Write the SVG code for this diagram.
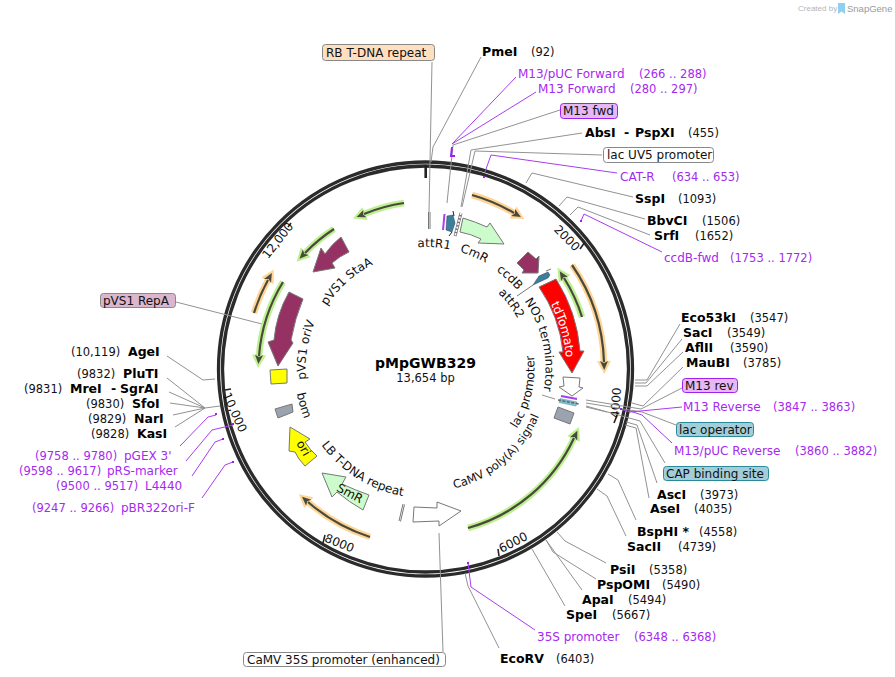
<svg xmlns="http://www.w3.org/2000/svg" width="895" height="677" viewBox="0 0 895 677">
<style>
text{font-family:"DejaVu Sans","Verdana",sans-serif;font-size:12px;fill:#111}
.b{font-weight:bold;font-size:12.5px;fill:#000}
.p{fill:#a52af0}
.n{font-size:11.5px}
.np{font-size:11.5px;fill:#a52af0}
.c{fill:none;stroke:#929292;stroke-width:1}
.m{fill:none;stroke:#a83cf0;stroke-width:1}
.dot{fill:none;stroke:#a020f0;stroke-width:2}
.ring{fill:none;stroke:#2b2b2b;stroke-width:3.300}
.tick{stroke:#222;stroke-width:1.600}
.f{stroke:#777;stroke-width:1}
.og{fill:none;stroke:#ffd596;stroke-width:6.500}
.gg{fill:none;stroke:#bdf08f;stroke-width:6.500}
.dk{fill:none;stroke:#4a4a3c;stroke-width:2.200}
.g2{stroke:#777;stroke-width:1;fill:none}
</style>
<defs>
<marker id="ho" markerUnits="userSpaceOnUse" markerWidth="20" markerHeight="20" refX="4" refY="10" orient="auto"><path d="M3 3L16 10L3 17Z" fill="#ffd596"/></marker>
<marker id="hg" markerUnits="userSpaceOnUse" markerWidth="20" markerHeight="20" refX="4" refY="10" orient="auto"><path d="M3 3L16 10L3 17Z" fill="#bdf08f"/></marker>
<marker id="hd" markerUnits="userSpaceOnUse" markerWidth="14" markerHeight="14" refX="2" refY="7" orient="auto"><path d="M1 3L10 7L1 11L3 7Z" fill="#4a4a3c"/></marker>
<path id="a122" d="M319.85,308A122,122 0 0 1 531.15,308"/>
<path id="a121" d="M320.71,308.5A121,121 0 0 1 530.29,308.5"/>
<path id="a105" d="M334.57,316.5A105,105 0 0 1 516.43,316.5"/>
<path id="a117" d="M324.18,310.5A117,117 0 0 1 526.82,310.5"/>
<path id="a120" d="M321.58,309A120,120 0 0 1 529.42,309"/>
<path id="a141" d="M303.39,298.5A141,141 0 0 1 547.61,298.5"/>
<path id="b109" d="M331.1,423.5A109,109 0 0 0 519.9,423.5"/>
<path id="b123" d="M319,430.5A123,123 0 0 0 532,430.5"/>
<path id="b129" d="M313.78,433.5A129,129 0 0 0 537.22,433.5"/>
<path id="b131" d="M312.05,434.5A131,131 0 0 0 538.95,434.5"/>
</defs>
<g id="watermark">
<text x="798" y="11" style="font-size:8px;fill:#b5b5b5;font-family:'Liberation Sans',sans-serif">Created by</text>
<path d="M838 3h7v11l-3.500-2.500-3.500 2.500z" fill="#8fd0f2"/>
<text x="847" y="11.500" style="font-size:9.500px;fill:#9a9a9a;font-family:'Liberation Sans',sans-serif">SnapGene</text>
</g>
<g id="backbone">
<circle class="ring" cx="425.500" cy="369" r="207"/>
<circle class="ring" cx="425.500" cy="369" r="203"/>
<line x1="425.700" y1="165" x2="425.700" y2="178" stroke="#222" stroke-width="2.600"/>
<line class="tick" x1="585" y1="242" x2="580" y2="249"/>
<line class="tick" x1="618" y1="413" x2="614" y2="423"/>
<line class="tick" x1="498" y1="549" x2="499" y2="556"/>
<line class="tick" x1="325" y1="535" x2="323" y2="543"/>
<line class="tick" x1="225" y1="390" x2="231" y2="389"/>
<line class="tick" x1="291" y1="223" x2="288" y2="227"/>
<text transform="translate(564,241) rotate(45)" text-anchor="middle">2000</text>
<text transform="translate(620,403) rotate(-86)" text-anchor="middle">4000</text>
<text transform="translate(515,546) rotate(-27)" text-anchor="middle">6000</text>
<text transform="translate(338,547) rotate(22)" text-anchor="middle">8000</text>
<text transform="translate(231,414) rotate(66)" text-anchor="middle">10,000</text>
<text transform="translate(281,243) rotate(-52)" text-anchor="middle">12,000</text>
</g>
<g id="connectors">
<path class="c" d="M481,57L433,147L431,162M432,62L429,212"/>
<path class="c" d="M560,110L453,145L447,203"/>
<path class="c" d="M582,133L471,150L461,207M602,155L475,151L462,207"/>
<path class="c" d="M633,197L532,173L526,183M645,219L567,197L559,206M650,235L578,207L570,215"/>
<path class="c" d="M680,324L647,380L635,380M682,339L646,383L635,383M683,352L647,386L635,386M683,367L643,406L632,403"/>
<path class="c" d="M682,388L641,409L586,400M676,425L642,412L586,403M665,463L640,421L586,406M657,483L637,425L626,422M649,498L636,428L625,425"/>
<path class="c" d="M607,412L586,407M542,395L555,399"/>
<path class="c" d="M608,474L618,480L636,520M597,489L607,496L626,536M557,532L565,541L606,563M546,540L553,552L596,579M546,540L582,590M532,549L565,606M465,573L468,586L499,648"/>
<path class="c" d="M439,533L443,652"/>
<path class="c" d="M176,302L262,324"/>
<path class="c" d="M167,356L203,380L215,379M167,378L205,408L220,406M169,392L205,408M170,403L205,408M173,415L205,408M175,427L205,408"/>
<path class="m" d="M516,77L452,144M536,92L452,144"/>
<path class="m" d="M617,173L491,155L485,172M662,252L584,214L581,221"/>
<path class="m" d="M682,407L630,412L621,409M672,443L642,415L630,411"/>
<path class="m" d="M535,630L471,587L468,563"/>
<path class="m" d="M180,446L208,417L216,415M186,461L212,430L233,425M192,476L215,442L223,439M202,498L225,465L233,462"/>
<path class="dot" d="M452,147L451,156L455,156M484,176v2M581,220v2M621,408v2M468,562v2M216,413v2M233,423v2M223,438v2M233,461v2"/>
</g>
<g id="arcs">
<path class="og" d="M472,195A180,180 0 0 1 514,213" marker-end="url(#ho)"/><path class="dk" d="M472,195A180,180 0 0 1 514,213" marker-end="url(#hd)"/>
<path class="og" d="M572,265A180,180 0 0 1 604,362" marker-end="url(#ho)"/><path class="dk" d="M572,265A180,180 0 0 1 604,362" marker-end="url(#hd)"/>
<path class="gg" d="M582,317A165,165 0 0 0 564,278" marker-end="url(#hg)"/><path class="dk" d="M582,317A165,165 0 0 0 564,278" marker-end="url(#hd)"/>
<path class="gg" d="M468,528A165,165 0 0 0 574,438" marker-end="url(#hg)"/><path class="dk" d="M468,528A165,165 0 0 0 574,438" marker-end="url(#hd)"/>
<path class="og" d="M370,537A178,178 0 0 1 308,502" marker-end="url(#ho)"/><path class="dk" d="M370,537A178,178 0 0 1 308,502" marker-end="url(#hd)"/>
<path class="og" d="M254,313A180,180 0 0 1 268,280" marker-end="url(#ho)"/><path class="dk" d="M254,313A180,180 0 0 1 268,280" marker-end="url(#hd)"/>
<path class="gg" d="M283,282A167,167 0 0 0 259,356" marker-end="url(#hg)"/><path class="dk" d="M283,282A167,167 0 0 0 259,356" marker-end="url(#hd)"/>
<path class="gg" d="M334,229A167,167 0 0 0 305,253" marker-end="url(#hg)"/><path class="dk" d="M334,229A167,167 0 0 0 305,253" marker-end="url(#hd)"/>
<path class="gg" d="M404,203A167,167 0 0 0 364,214" marker-end="url(#hg)"/><path class="dk" d="M404,203A167,167 0 0 0 364,214" marker-end="url(#hd)"/>
</g>
<g id="attR1">
<path class="g2" d="M428.500,212V229M430,212V229"/>
<path d="M444.500,214L443,230" stroke="#a83cf0" stroke-width="2" fill="none"/>
<path d="M447,216L453,215L455,223L452,232L446,230Z" fill="#3a8098" stroke="#336" stroke-width=".5"/>
<path d="M453,211L454,216M452,232L449,236" stroke="#222" stroke-width="1" fill="none"/>
<text transform="rotate(4 425.500 369)" text-anchor="middle"><textPath href="#a122" startOffset="50%">attR1</textPath></text>
</g>
<g id="lacUV5">
<path d="M461,213L455,236" stroke="#777" stroke-width="3" fill="none"/>
<path d="M461,213L455,236" stroke="#fff" stroke-width="1.600" stroke-dasharray="2 1.500" fill="none"/>
</g>
<g id="CmR">
<path class="f" fill="#ccfbcc" d="M463,218Q476,222 487,227L490,223L504,244L478,243L481,239Q471,234 460,232Z"/>
<text transform="rotate(23 425.500 369)" text-anchor="middle"><textPath href="#a122" startOffset="50%">CmR</textPath></text>
</g>
<g id="ccdB">
<path class="f" fill="#963163" d="M528,252L517,263L524,270L522,273L538,273L539,256L536,259Z"/>
<text transform="rotate(42.600 425.500 369)" text-anchor="middle"><textPath href="#a121" startOffset="50%">ccdB</textPath></text>
</g>
<g id="attR2">
<path fill="#3a8098" stroke="#336" stroke-width=".5" d="M533,285L539,276L548,272L550,275L548,278Z"/>
<path d="M546,271L551,269M533,285L517,296" stroke="#777" stroke-width="1" fill="none"/>
<text transform="rotate(52.600 425.500 369)" text-anchor="middle"><textPath href="#a105" startOffset="50%">attR2</textPath></text>
</g>
<g id="tdTomato">
<path class="f" fill="#ff0000" d="M539,287A140,140 0 0 1 563,352L559,352L572,373L584,351L580,351A157,157 0 0 0 556,279Z"/>
<text transform="rotate(74 425.500 369)" text-anchor="middle" style="fill:#fff"><textPath href="#a141" startOffset="50%" style="fill:#fff">tdTomato</textPath></text>
</g>
<g id="NOS">
<path class="f" fill="#fff" d="M563,377L580,378L579,387L583,388L572,396L559,387L564,386Z"/>
<text transform="rotate(78 425.500 369)" text-anchor="middle"><textPath href="#a120" startOffset="50%">NOS terminator</textPath></text>
</g>
<g id="lacPromoter">
<path d="M561,396L577,399" stroke="#a83cf0" stroke-width="2" fill="none"/>
<path d="M560,398.500L577,402L576,406L559,402.500Z" fill="#7fc0d0" stroke="#4f8fa0" stroke-width=".5"/>
<path d="M558,400L579,404" stroke="#666" stroke-width="1.500" stroke-dasharray="3 1.500" fill="none"/>
<text transform="rotate(-77 425.500 369)" text-anchor="middle"><textPath href="#b109" startOffset="50%">lac promoter</textPath></text>
</g>
<g id="CaMVpolyA">
<path class="f" fill="#9aa3ae" d="M558,407L574,413L570,424L554,418Z"/>
<text transform="rotate(-40.500 425.500 369)" text-anchor="middle" style="font-size:11.500px"><textPath href="#b123" startOffset="50%">CaMV poly(A) signal</textPath></text>
</g>
<g id="CaMV35S">
<path class="f" fill="#fff" d="M414,507L437,508L437,502L461,511L439,526L439,521L413,522Z"/>
</g>
<g id="LB">
<path class="g2" d="M403,504L399,521M404.500,504.500L400.500,521.500"/>
<text transform="rotate(32 425.500 369)" text-anchor="middle"><textPath href="#b129" startOffset="50%">LB T-DNA repeat</textPath></text>
</g>
<g id="SmR">
<path class="f" fill="#ccfbcc" d="M322,473L346,477L342,484Q355,490 369,495L363,510Q349,502 337,492L332,497Z"/>
<text transform="translate(348,497) rotate(28)" text-anchor="middle">SmR</text>
</g>
<g id="ori">
<path class="f" fill="#ffff00" d="M290,427L310,439L305,442Q310,450 317,456L305,466Q298,459 295,452L289,451Z"/>
<text transform="translate(300,450) rotate(60)" text-anchor="middle">ori</text>
</g>
<g id="bom">
<path class="f" fill="#9aa3ae" d="M275,409L292,404L293,412L278,418Z"/>
<text transform="rotate(73.400 425.500 369)" text-anchor="middle"><textPath href="#b131" startOffset="50%">bom</textPath></text>
</g>
<g id="oriV">
<path class="f" fill="#ffff00" d="M270,370L287,369L287,383L271,384Z"/>
<path class="f" fill="#963163" d="M289,292L303,299Q295,318 291,340L293,343L278,366L268,342L274,340Q276,315 289,292Z"/>
<text transform="rotate(-81 425.500 369)" text-anchor="middle"><textPath href="#a120" startOffset="50%">pVS1 oriV</textPath></text>
</g>
<g id="StaA">
<path class="f" fill="#963163" d="M341,237L349,252Q340,256 332,263L335,268L313,272L321,248L325,254Q332,244 341,237Z"/>
<text transform="rotate(-42 425.500 369)" text-anchor="middle"><textPath href="#a117" startOffset="50%">pVS1 StaA</textPath></text>
</g>
<g id="center">
<text x="425.500" y="368" text-anchor="middle" style="font-weight:bold;font-size:14px;fill:#000">pMpGWB329</text>
<text x="425.500" y="382" text-anchor="middle" style="font-size:11.500px">13,654 bp</text>
</g>
<g id="labels">
<rect x="322.500" y="44.500" width="112" height="16" rx="3" fill="#ffdfc0" stroke="#888"/><text x="326" y="56.500">RB T-DNA repeat</text>
<text class="b" x="482" y="56">PmeI</text><text class="n" x="531" y="56">(92)</text>
<text class="p" x="518" y="78">M13/pUC Forward</text><text class="np" x="639" y="78">(266 .. 288)</text>
<text class="p" x="538" y="93">M13 Forward</text><text class="np" x="630" y="93">(280 .. 297)</text>
<rect x="560.500" y="103.500" width="57" height="15" rx="3" fill="#e6b8f6" stroke="#a020f0"/><text x="563" y="115">M13 fwd</text>
<text class="b" x="585" y="137">AbsI</text><text class="b" x="624" y="137">-</text><text class="b" x="635" y="137">PspXI</text><text class="n" x="688" y="137">(455)</text>
<rect x="603.500" y="147.500" width="110" height="15" rx="3" fill="#fff" stroke="#888"/><text x="607" y="159">lac UV5 promoter</text>
<text class="p" x="620" y="181">CAT-R</text><text class="np" x="672" y="181">(634 .. 653)</text>
<text class="b" x="635" y="203">SspI</text><text class="n" x="678" y="203">(1093)</text>
<text class="b" x="647" y="225">BbvCI</text><text class="n" x="702" y="225">(1506)</text>
<text class="b" x="654" y="240">SrfI</text><text class="n" x="695" y="240">(1652)</text>
<text class="p" x="664" y="262">ccdB-fwd</text><text class="np" x="730" y="262">(1753 .. 1772)</text>
<text class="b" x="681" y="322">Eco53kI</text><text class="n" x="750" y="322">(3547)</text>
<text class="b" x="683" y="337">SacI</text><text class="n" x="727" y="337">(3549)</text>
<text class="b" x="685" y="352">AflII</text><text class="n" x="730" y="352">(3590)</text>
<text class="b" x="686" y="367">MauBI</text><text class="n" x="743" y="367">(3785)</text>
<rect x="682.500" y="378.500" width="55" height="14" rx="3" fill="#e6b8f6" stroke="#a020f0"/><text x="685" y="389.500">M13 rev</text>
<text class="p" x="683" y="411">M13 Reverse</text><text class="np" x="773" y="411">(3847 .. 3863)</text>
<rect x="676.500" y="422.500" width="77" height="14" rx="3" fill="#a3cdd8" stroke="#2a8a9a"/><text x="679" y="433.500">lac operator</text>
<text class="p" x="674" y="455">M13/pUC Reverse</text><text class="np" x="795" y="455">(3860 .. 3882)</text>
<rect x="663.500" y="466.500" width="105" height="14" rx="3" fill="#a3cdd8" stroke="#2a8a9a"/><text x="666" y="477.500">CAP binding site</text>
<text class="b" x="657" y="499">AscI</text><text class="n" x="700" y="499">(3973)</text>
<text class="b" x="650" y="513">AseI</text><text class="n" x="694" y="513">(4035)</text>
<text class="b" x="637" y="536">BspHI *</text><text class="n" x="699" y="536">(4558)</text>
<text class="b" x="627" y="551">SacII</text><text class="n" x="678" y="551">(4739)</text>
<text class="b" x="610" y="574">PsiI</text><text class="n" x="649" y="574">(5358)</text>
<text class="b" x="597" y="589">PspOMI</text><text class="n" x="662" y="589">(5490)</text>
<text class="b" x="582" y="604">ApaI</text><text class="n" x="628" y="604">(5494)</text>
<text class="b" x="566" y="619">SpeI</text><text class="n" x="612" y="619">(5667)</text>
<text class="p" x="537" y="641">35S promoter</text><text class="np" x="634" y="641">(6348 .. 6368)</text>
<text class="b" x="500" y="663">EcoRV</text><text class="n" x="556" y="663">(6403)</text>
<rect x="243.500" y="652.500" width="202" height="14" rx="3" fill="#fff" stroke="#888"/><text x="247" y="663.500">CaMV 35S promoter (enhanced)</text>
<rect x="100.500" y="293.500" width="75" height="14" rx="3" fill="#dcb6cc" stroke="#888"/><text x="103" y="304.500">pVS1 RepA</text>
<text class="n" x="71" y="356">(10,119)</text><text class="b" x="128" y="356">AgeI</text>
<text class="n" x="77" y="378">(9832)</text><text class="b" x="123" y="378">PluTI</text>
<text class="n" x="24" y="393">(9831)</text><text class="b" x="70" y="393">MreI</text><text class="b" x="111" y="393">-</text><text class="b" x="120" y="393">SgrAI</text>
<text class="n" x="86" y="408">(9830)</text><text class="b" x="132" y="408">SfoI</text>
<text class="n" x="88" y="423">(9829)</text><text class="b" x="134" y="423">NarI</text>
<text class="n" x="91" y="438">(9828)</text><text class="b" x="137" y="438">KasI</text>
<text class="np" x="35" y="460">(9758 .. 9780)</text><text class="p" x="124" y="460">pGEX 3'</text>
<text class="np" x="19" y="475">(9598 .. 9617)</text><text class="p" x="107" y="475">pRS-marker</text>
<text class="np" x="56" y="490">(9500 .. 9517)</text><text class="p" x="145" y="490">L4440</text>
<text class="np" x="32" y="512">(9247 .. 9266)</text><text class="p" x="121" y="512">pBR322ori-F</text>
</g>
</svg>
